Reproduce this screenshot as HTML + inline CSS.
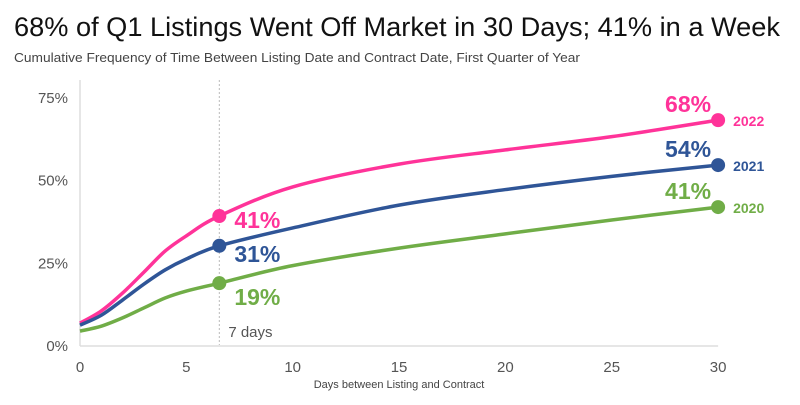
<!DOCTYPE html>
<html><head><meta charset="utf-8"><style>
body{margin:0;background:#fff;font-family:"Liberation Sans",sans-serif}
svg text{font-family:"Liberation Sans",sans-serif}
</style></head><body>
<svg id="chart" width="800" height="400" xmlns="http://www.w3.org/2000/svg">
<text x="14" y="36" font-size="27" textLength="766" lengthAdjust="spacingAndGlyphs" fill="#111">68% of Q1 Listings Went Off Market in 30 Days; 41% in a Week</text>
<text x="14" y="62" font-size="13" textLength="566" lengthAdjust="spacingAndGlyphs" fill="#444">Cumulative Frequency of Time Between Listing Date and Contract Date, First Quarter of Year</text>
<g id="axes"></g><g id="series"></g>
</svg>
<script>
const days=[0,1,2,3,4,5,6.55,10,15,20,25,30];
const s2022=[6.6,10.3,15.7,22,28.4,33,39,47.8,54.7,59,63,68];
const s2021=[6,9,13.6,18.4,22.7,26,30,35.4,42.3,47,51,54.4];
const s2020=[4.2,5.7,8.2,11.2,14.2,16.3,18.7,24,29.3,33.6,37.8,41.7];
const xTicks=[0,5,10,15,20,25,30];
const yTicks=[0,25,50,75];
const weekLabels=["41%","31%","19%"];
const endLabels=["68%","54%","41%"];
const yearNames=["2022","2021","2020"];
const markerDay=6.55;
const NS="http://www.w3.org/2000/svg";
const X=d=>80+d*21.27, Y=v=>345-v*3.307;
function mk(t,a,p,txt){const e=document.createElementNS(NS,t);for(const k in a)e.setAttribute(k,a[k]);if(txt!=null)e.textContent=txt;p.appendChild(e);return e;}
const ax=document.getElementById('axes'), sg=document.getElementById('series');
let e=mk('line',{x1:X(0),x2:X(0),y1:80,y2:346,stroke:'#ddd','stroke-width':1.5},ax);


e=mk('line',{x1:X(0),x2:X(30),y1:346,y2:346,stroke:'#ddd','stroke-width':1.5},ax);


yTicks.forEach(v=>{const t=mk('text',{x:68,y:Y(v)+6,'text-anchor':'end','font-size':15,fill:'#555'},ax,v+'%');

});
xTicks.forEach(v=>{const t=mk('text',{x:X(v),y:372,'text-anchor':'middle','font-size':15,fill:'#555'},ax,v);

});
e=mk('text',{x:X(15),y:388,'text-anchor':'middle','font-size':11,fill:'#444'},ax,'Days between Listing and Contract');


e=mk('line',{x1:X(markerDay),x2:X(markerDay),y1:80,y2:345,stroke:'#bbb','stroke-dasharray':'2,2'},ax);


e=mk('text',{x:X(markerDay)+9,y:337,'font-size':15,fill:'#555'},ax,'7 days');


const series=[s2022,s2021,s2020], cols=['#ff3399','#2f5597','#70ad47'];
const weekDy=[12,16,22];
function path(vals){const p=days.map((d,i)=>[X(d),Y(vals[i])]);let s='M'+p[0];for(let i=0;i<p.length-1;i++){const p0=p[i-1]||p[i],p1=p[i],p2=p[i+1],p3=p[i+2]||p2;s+=` C${p1[0]+(p2[0]-p0[0])/6},${p1[1]+(p2[1]-p0[1])/6} ${p2[0]-(p3[0]-p1[0])/6},${p2[1]-(p3[1]-p1[1])/6} ${p2[0]},${p2[1]}`;}return s;}
series.forEach((vals,k)=>{const c=cols[k];
 const l=mk('path',{d:path(vals),fill:'none',stroke:c,'stroke-width':3.5},sg);
 
 
 const wi=days.indexOf(markerDay);
 const d1=mk('circle',{cx:X(markerDay),cy:Y(vals[wi]),r:7,fill:c},sg);
 
 
 const t1=mk('text',{x:X(markerDay)+15,y:Y(vals[wi])+weekDy[k],'font-size':23,'font-weight':'bold',fill:c},sg,weekLabels[k]);
 
 
 const n=vals.length-1;
 const d2=mk('circle',{cx:X(30),cy:Y(vals[n]),r:7,fill:c},sg);
 
 
 const t2=mk('text',{x:X(30)-7,y:Y(vals[n])-8,'text-anchor':'end','font-size':23,'font-weight':'bold',fill:c},sg,endLabels[k]);
 
 
 const t3=mk('text',{x:X(30)+15,y:Y(vals[n])+6,'font-size':14,'font-weight':'bold',fill:c},sg,yearNames[k]);
 
 
});
</script>
</body></html>
